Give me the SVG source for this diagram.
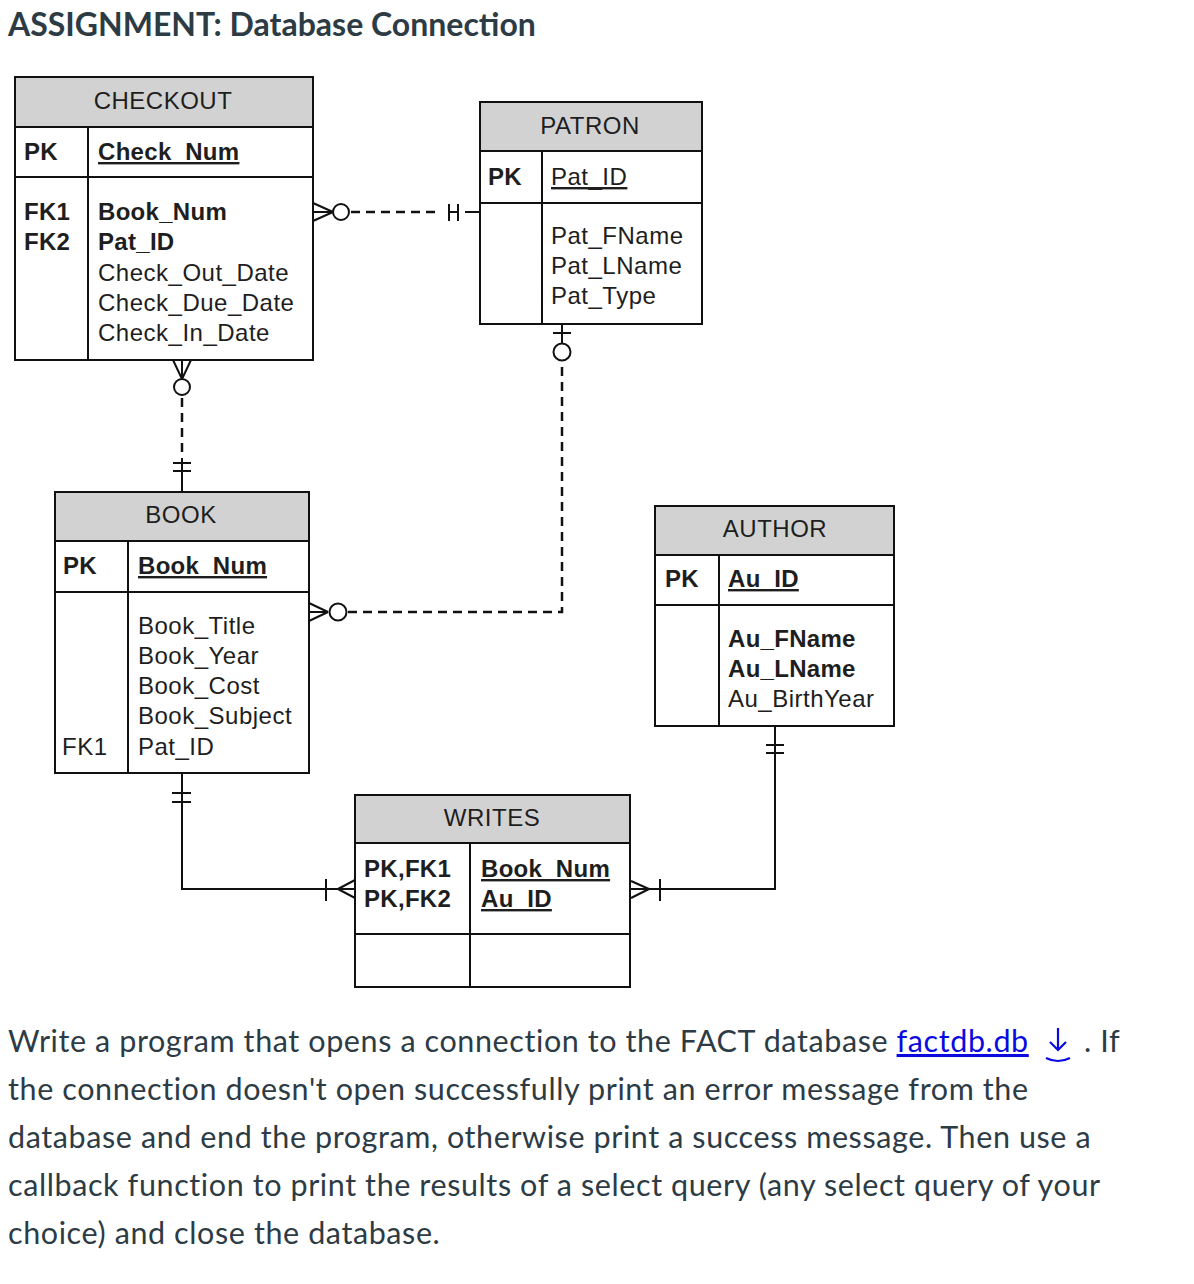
<svg xmlns="http://www.w3.org/2000/svg" width="1194" height="1284" viewBox="0 0 1194 1284">
<style>
.t{font-family:"Liberation Sans",Arial,sans-serif;font-size:24px;fill:#1e1e1e;letter-spacing:0.5px}
.b{font-weight:bold;letter-spacing:0.3px}
.u{text-decoration:underline}
.hd{fill:#d2d2d2;stroke:#111;stroke-width:2}
.bx{fill:#fff;stroke:#111;stroke-width:2}
.ln{fill:none;stroke:#111;stroke-width:2}
.ds{fill:none;stroke:#111;stroke-width:2.5;stroke-dasharray:9 6}
.cir{fill:#fff;stroke:#111;stroke-width:2}
.p{font-family:Lato,"Liberation Sans",sans-serif;font-size:30.5px;letter-spacing:0.6px;fill:#2d3b45}
</style>
<rect width="1194" height="1284" fill="#fff"/>
<text x="8" y="36" font-family="Lato, 'Liberation Sans', sans-serif" font-size="32" font-weight="bold" fill="#2d3b45">ASSIGNMENT: Database Connection</text>

<g id="checkout">
<rect class="bx" x="15" y="77" width="298" height="283"/>
<rect class="hd" x="15" y="77" width="298" height="50"/>
<line class="ln" x1="15" y1="177" x2="313" y2="177"/>
<line class="ln" x1="88" y1="127" x2="88" y2="360"/>
<text class="t" x="163" y="109" text-anchor="middle">CHECKOUT</text>
<text class="t b" x="24" y="160">PK</text>
<text class="t b u" x="98" y="160">Check_Num</text>
<text class="t b" x="24" y="220">FK1</text>
<text class="t b" x="24" y="250">FK2</text>
<text class="t b" x="98" y="220">Book_Num</text>
<text class="t b" x="98" y="250">Pat_ID</text>
<text class="t" x="98" y="281">Check_Out_Date</text>
<text class="t" x="98" y="311">Check_Due_Date</text>
<text class="t" x="98" y="341">Check_In_Date</text>
</g>

<g id="patron">
<rect class="bx" x="480" y="102" width="222" height="222"/>
<rect class="hd" x="480" y="102" width="222" height="49"/>
<line class="ln" x1="480" y1="203" x2="702" y2="203"/>
<line class="ln" x1="542" y1="151" x2="542" y2="324"/>
<text class="t" x="590" y="134" text-anchor="middle">PATRON</text>
<text class="t b" x="488" y="185">PK</text>
<text class="t u" x="551" y="185">Pat_ID</text>
<text class="t" x="551" y="244">Pat_FName</text>
<text class="t" x="551" y="274">Pat_LName</text>
<text class="t" x="551" y="304">Pat_Type</text>
</g>

<g id="book">
<rect class="bx" x="55" y="492" width="254" height="281"/>
<rect class="hd" x="55" y="492" width="254" height="49"/>
<line class="ln" x1="55" y1="592" x2="309" y2="592"/>
<line class="ln" x1="128" y1="541" x2="128" y2="773"/>
<text class="t" x="181" y="523" text-anchor="middle">BOOK</text>
<text class="t b" x="63" y="574">PK</text>
<text class="t b u" x="138" y="574">Book_Num</text>
<text class="t" x="138" y="634">Book_Title</text>
<text class="t" x="138" y="664">Book_Year</text>
<text class="t" x="138" y="694">Book_Cost</text>
<text class="t" x="138" y="724">Book_Subject</text>
<text class="t" x="62" y="755">FK1</text>
<text class="t" x="138" y="755">Pat_ID</text>
</g>

<g id="author">
<rect class="bx" x="655" y="506" width="239" height="220"/>
<rect class="hd" x="655" y="506" width="239" height="49"/>
<line class="ln" x1="655" y1="605" x2="894" y2="605"/>
<line class="ln" x1="719" y1="555" x2="719" y2="726"/>
<text class="t" x="775" y="537" text-anchor="middle">AUTHOR</text>
<text class="t b" x="665" y="587">PK</text>
<text class="t b u" x="728" y="587">Au_ID</text>
<text class="t b" x="728" y="647">Au_FName</text>
<text class="t b" x="728" y="677">Au_LName</text>
<text class="t" x="728" y="707">Au_BirthYear</text>
</g>

<g id="writes">
<rect class="bx" x="355" y="795" width="275" height="192"/>
<rect class="hd" x="355" y="795" width="275" height="48"/>
<line class="ln" x1="355" y1="934" x2="630" y2="934"/>
<line class="ln" x1="470" y1="843" x2="470" y2="987"/>
<text class="t" x="492" y="826" text-anchor="middle">WRITES</text>
<text class="t b" x="364" y="877">PK,FK1</text>
<text class="t b" x="364" y="907">PK,FK2</text>
<text class="t b u" x="481" y="877">Book_Num</text>
<text class="t b u" x="481" y="907">Au_ID</text>
</g>

<g id="connectors">
<!-- CHECKOUT - PATRON -->
<path class="ln" d="M313,203 L333,212 M313,221 L333,212 M313,212 L333,212"/>
<circle class="cir" cx="341" cy="212" r="8"/>
<line class="ds" x1="351" y1="212" x2="441" y2="212" stroke-dasharray="8 5"/>
<path class="ln" d="M449,204 V221 M458,204 V221 M449,212 H458 M465,212 H480"/>
<!-- CHECKOUT - BOOK -->
<path class="ln" d="M173,360 L182,379 M191,360 L182,379 M182,360 V379"/>
<circle class="cir" cx="182" cy="387" r="8"/>
<line class="ds" x1="182" y1="398" x2="182" y2="458" stroke-dasharray="9 6"/>
<path class="ln" d="M182,458 V492 M173,463 H191 M173,471 H191"/>
<!-- BOOK - PATRON -->
<path class="ln" d="M309,603 L328,612 M309,621 L328,612 M309,612 H328"/>
<circle class="cir" cx="338" cy="612" r="8.5"/>
<path class="ds" d="M348,612 H562 V362"/>
<path class="ln" d="M562,324 V343 M553,333 H571"/>
<circle class="cir" cx="562" cy="352" r="8.5"/>
<!-- BOOK - WRITES -->
<path class="ln" d="M182,773 V889 H355 M172,793 H191 M172,802 H191 M326,879 V901 M355,880 L338,889 M355,898 L338,889"/>
<!-- AUTHOR - WRITES -->
<path class="ln" d="M775,726 V889 H630 M766,745 H784 M766,753 H784 M660,879 V901 M631,881 L649,889 M631,898 L649,889"/>
</g>

<g id="paragraph">
<text class="p" x="8" y="1052">Write a program that opens a connection to the FACT database <tspan fill="#0a0ae0" text-decoration="underline">factdb.db</tspan></text>
<path d="M1058,1028 V1050 M1050,1042 L1058,1050 L1066,1042 M1046,1058 Q1058,1064 1070,1058" fill="none" stroke="#0a0ae0" stroke-width="2.2"/>
<text class="p" x="1084" y="1052">. If</text>
<text class="p" x="8" y="1100">the connection doesn't open successfully print an error message from the</text>
<text class="p" x="8" y="1148">database and end the program, otherwise print a success message. Then use a</text>
<text class="p" x="8" y="1196">callback function to print the results of a select query (any select query of your</text>
<text class="p" x="8" y="1244">choice) and close the database.</text>
</g>
</svg>
